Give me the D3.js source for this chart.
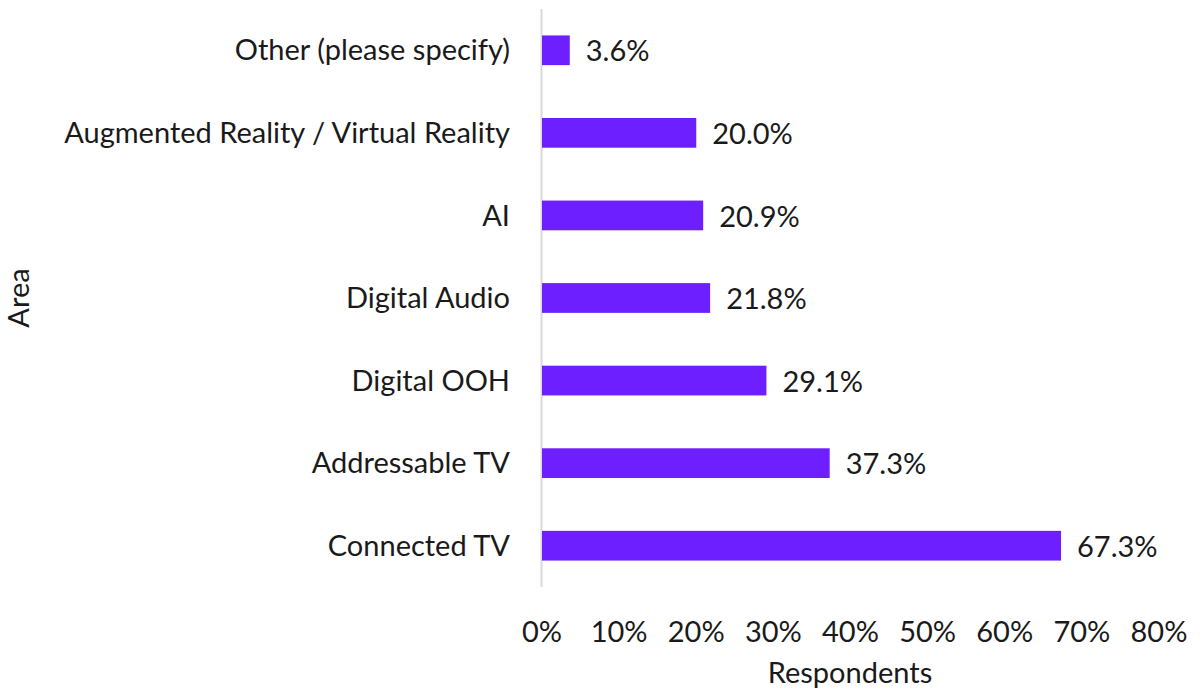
<!DOCTYPE html>
<html><head><meta charset="utf-8">
<script src="https://cdn.jsdelivr.net/npm/d3@7"></script>
<style>body{margin:0;background:#fff}svg text{font-family:Lato, "Open Sans", sans-serif;fill:#1a1a1a}</style>
</head><body><svg id="c" width="1201" height="691"></svg>
<script>
const categories = ["Other (please specify)","Augmented Reality / Virtual Reality","AI","Digital Audio","Digital OOH","Addressable TV","Connected TV"];
const values = [3.6,20.0,20.9,21.8,29.1,37.3,67.3];
const ticks = [0,10,20,30,40,50,60,70,80];

const svg = d3.select("#c");
const x = d3.scaleLinear().domain([0,80]).range([542,1159]);
const y = d3.scaleBand().domain(categories).range([9,587]).paddingInner(0.64).paddingOuter(0.32);
const fs = 29;

svg.append("line").attr("x1",541.5).attr("x2",541.5).attr("y1",9).attr("y2",587).attr("stroke","#d9d9d9").attr("stroke-width",2);

svg.selectAll("rect.bar").data(values).join("rect").attr("class","bar")
  .attr("x",x(0)).attr("y",(d,i)=>y(categories[i])).attr("width",d=>x(d)-x(0)).attr("height",y.bandwidth())
  .attr("fill","#6e1fff");

svg.selectAll("text.val").data(values).join("text").attr("class","val")
  .attr("x",d=>x(d)+16).attr("y",(d,i)=>y(categories[i])+y.bandwidth()/2+1).attr("dy","0.35em")
  .attr("font-size",fs).text(d=>d.toFixed(1)+"%");

svg.selectAll("text.cat").data(categories).join("text").attr("class","cat")
  .attr("x",510).attr("y",d=>y(d)+y.bandwidth()/2).attr("dy","0.35em").attr("text-anchor","end")
  .attr("font-size",fs).text(d=>d);

svg.selectAll("text.tick").data(ticks).join("text").attr("class","tick")
  .attr("x",d=>x(d)).attr("y",632).attr("dy","0.35em").attr("text-anchor","middle")
  .attr("font-size",fs).text(d=>d+"%");

svg.append("text").attr("x",850).attr("y",673).attr("dy","0.35em").attr("text-anchor","middle").attr("font-size",fs).text("Respondents");
svg.append("text").attr("transform","translate(19,298) rotate(-90)").attr("dy","0.35em").attr("text-anchor","middle").attr("font-size",fs).text("Area");
</script></body></html>
